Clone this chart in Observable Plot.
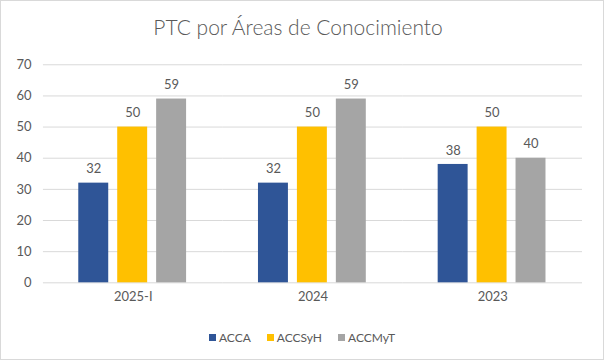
<!DOCTYPE html>
<html>
<head>
<meta charset="utf-8">
<script src="https://cdn.jsdelivr.net/npm/d3@7"></script>
<script src="https://cdn.jsdelivr.net/npm/@observablehq/plot@0.6"></script>
<style>
  html, body { margin: 0; padding: 0; background: #fff; }
  #chart {
    position: relative; width: 604px; height: 360px; box-sizing: border-box;
    border: 1px solid #d9d9d9; font-family: Lato, "Open Sans", sans-serif; color: #595959;
    overflow: hidden;
  }
  #title {
    position: absolute; left: -4px; top: 10px; width: 602px; text-align: center;
    font-size: 21px; font-weight: 300; line-height: 32px; color: #595959;
  }
  #plot { position: absolute; left: -1px; top: 49px; }
  #legend {
    position: absolute; left: 0px; top: 325px; width: 602px; height: 22px;
    display: flex; justify-content: center; align-items: center; gap: 16px;
    font-size: 12px; color: #595959;
  }
  .item { display: flex; align-items: center; gap: 3px; }
  .sw { width: 7px; height: 7px; display: inline-block; }
</style>
</head>
<body>
<div id="chart">
  <div id="title">PTC por Áreas de Conocimiento</div>
  <div id="plot"></div>
  <div id="legend"></div>
</div>
<script>
const categories = ["2025-I", "2024", "2023"];
const series = ["ACCA", "ACCSyH", "ACCMyT"];
const colors = ["#2F5597", "#FFC000", "#A5A5A5"];
const valuesACCA = [32, 32, 38];
const valuesACCSyH = [50, 50, 50];
const valuesACCMyT = [59, 59, 40];
const yTicks = [0, 10, 20, 30, 40, 50, 60, 70];

const seriesValues = [valuesACCA, valuesACCSyH, valuesACCMyT];
const data = [];
categories.forEach((c, i) => {
  series.forEach((s, j) => data.push({year: c, series: s, value: seriesValues[j][i]}));
});

const chart = Plot.plot({
  width: 604,
  height: 270,
  marginLeft: 42.6,
  marginRight: 20,
  marginTop: 14.3,
  marginBottom: 37.3,
  style: {fontFamily: "Lato, 'Open Sans', sans-serif", fontSize: "13px", color: "#595959", background: "transparent"},
  fx: {domain: categories, padding: 0, axis: "bottom", tickSize: 0, tickPadding: 9, label: null},
  x: {domain: series, paddingInner: 0.225, paddingOuter: 0.88, axis: null},
  y: {domain: [0, 70], ticks: yTicks, tickSize: 0, tickPadding: 12, label: null, grid: false},
  color: {domain: series, range: colors},
  marks: [
    Plot.gridY(yTicks, {stroke: "#d9d9d9", strokeOpacity: 1, strokeWidth: 1}),
    Plot.barY(data, {fx: "year", x: "series", y: "value", fill: "series"}),
    Plot.text(data, {fx: "year", x: "series", y: "value", text: d => String(d.value), dy: -14, fill: "#595959", fontSize: 13})
  ]
});
document.getElementById("plot").appendChild(chart);

const legend = document.getElementById("legend");
series.forEach((s, i) => {
  const item = document.createElement("span");
  item.className = "item";
  const sw = document.createElement("span");
  sw.className = "sw";
  sw.style.background = colors[i];
  const t = document.createElement("span");
  t.textContent = s;
  item.appendChild(sw); item.appendChild(t);
  legend.appendChild(item);
});
</script>
</body>
</html>
